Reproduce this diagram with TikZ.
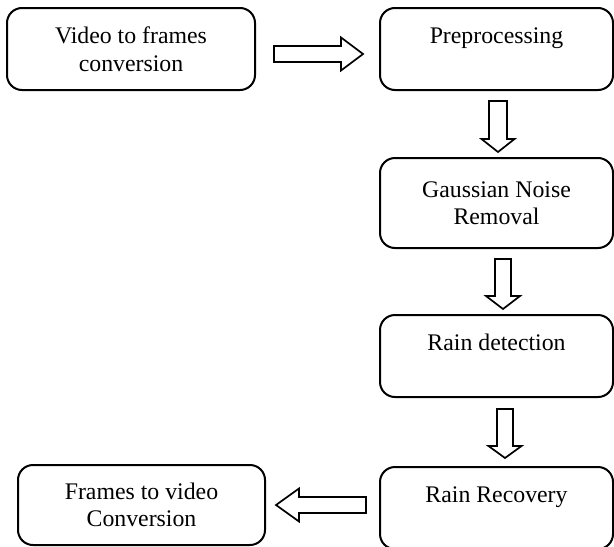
\documentclass[tikz,border=0pt]{standalone}
\usepackage{fontspec}
\setmainfont{Liberation Serif}
\usetikzlibrary{calc}
\tikzset{
  stage/.style={draw, line width=1pt, rounded corners=7.5pt, fill=white,
    align=center, inner sep=0pt,
    font=\fontsize{11.9}{13.75}\selectfont},
  arrowline/.style={draw, line width=0.85pt, line join=miter, fill=white},
  % hollow block arrow along +x: length, head length, shaft half-width, head half-width
  pics/barrow/.style n args={4}{code={
    \path[arrowline] (0,-#3) -- ({#1-#2},-#3) -- ({#1-#2},-#4) -- (#1,0)
      -- ({#1-#2},#4) -- ({#1-#2},#3) -- (0,#3) -- cycle;}}
}
\begin{document}
\begin{tikzpicture}[x=0.5pt,y=-0.5pt]
\clip (0,0) rectangle (614,546);

% processing stages
\node[stage, minimum width=124pt, minimum height=41pt] (v2f) at (131,49)
  {Video to frames\\conversion};
\node[stage, minimum width=116.5pt, minimum height=41pt] (pre) at (496.5,49)
  {Preprocessing\\~};
\node[stage, minimum width=116.5pt, minimum height=45pt] (gauss) at (496.5,203)
  {Gaussian Noise\\Removal};
\node[stage, minimum width=116.5pt, minimum height=41pt] (detect) at (496.5,356)
  {Rain detection\\~};
\node[stage, minimum width=116.5pt, minimum height=41pt] (recover) at (496.5,508)
  {Rain Recovery\\~};
\node[stage, minimum width=123.5pt, minimum height=40pt] (f2v) at (141.5,505)
  {Frames to video\\Conversion};

% block arrows between the stages
\pic (a1) at ($(v2f.east)+(18,5)$) {barrow={89}{22}{8}{16.5}};
\pic[rotate=-90] (a2) at ($(pre.south)+(1.5,10)$) {barrow={51}{13}{9}{16.5}};
\pic[rotate=-90] (a3) at ($(gauss.south)+(6.5,10)$) {barrow={50}{13}{8}{17}};
\pic[rotate=-90] (a4) at ($(detect.south)+(8.5,11)$) {barrow={49}{12}{8}{16.5}};
\pic[rotate=180] (a5) at ($(recover.west)+(-13,-3)$) {barrow={90}{23}{8}{16.5}};
\end{tikzpicture}
\end{document}
